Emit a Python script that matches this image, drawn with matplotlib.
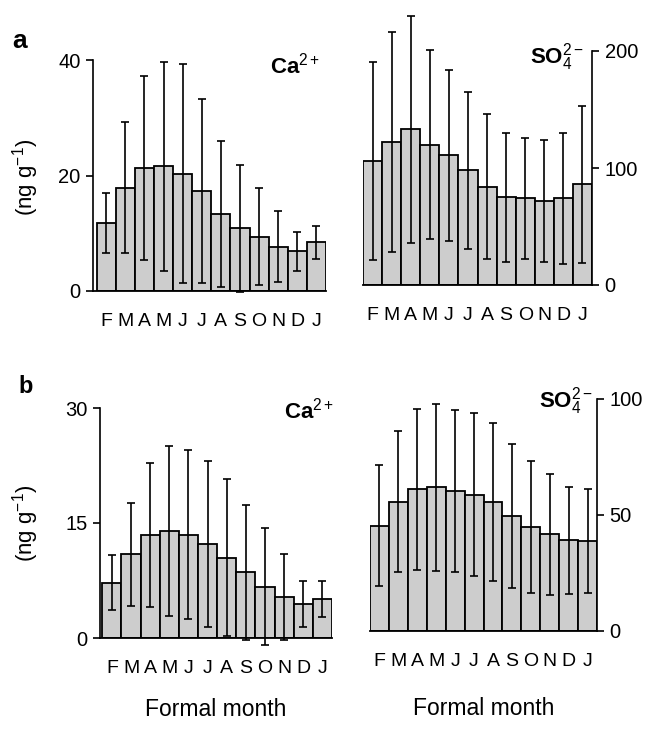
import numpy as np
import matplotlib
matplotlib.use("Agg")
from matplotlib import pyplot as plt

plt.rcParams['font.family'] = ['Liberation Sans', 'DejaVu Sans']
plt.rcParams['mathtext.fontset'] = 'custom'
plt.rcParams['mathtext.rm'] = 'Liberation Sans'
plt.rcParams['mathtext.bf'] = 'Liberation Sans:bold'
plt.rcParams['mathtext.it'] = 'Liberation Sans:italic'

months = ['F', 'M', 'A', 'M', 'J', 'J', 'A', 'S', 'O', 'N', 'D', 'J']

# panel a
ca_a_mean = [11.8, 17.9, 21.3, 21.6, 20.3, 17.3, 13.3, 10.9, 9.4, 7.7, 6.9, 8.4]
ca_a_sd = [5.2, 11.3, 15.9, 18.1, 19.0, 15.9, 12.6, 11.0, 8.4, 6.1, 3.4, 2.9]
so4_a_mean = [106, 122, 133, 120, 111, 98, 84, 75, 74, 72, 74, 86]
so4_a_sd = [85, 94, 97, 81, 73, 67, 62, 55, 52, 52, 56, 67]

# panel b
ca_b_mean = [7.2, 10.9, 13.4, 14.0, 13.5, 12.3, 10.5, 8.6, 6.7, 5.3, 4.4, 5.1]
ca_b_sd = [3.6, 6.7, 9.4, 11.1, 11.0, 10.8, 10.2, 8.8, 7.6, 5.6, 3.0, 2.3]
so4_b_mean = [45.4, 55.8, 61.0, 62.0, 60.3, 58.8, 55.5, 49.7, 44.9, 41.7, 39.1, 38.7]
so4_b_sd = [26.0, 30.5, 34.5, 36.0, 35.0, 35.0, 34.0, 31.0, 28.5, 26.0, 23.0, 22.5]

W, H = 653, 730
fig = plt.figure(figsize=(W / 100, H / 100), dpi=100)


def px_axes(x0, x1, y_top, y_bot):
    return fig.add_axes([x0 / W, 1 - y_bot / H, (x1 - x0) / W, (y_bot - y_top) / H])


def bar_panel(ax, mean, sd, ymax, yticks, side, xlim, ion, ion_xy, xlabel_pad=None):
    x = np.arange(len(mean))
    ax.bar(x, mean, width=1.0, color='#cdcdcd', edgecolor='black', linewidth=1.3, zorder=2)
    ax.errorbar(x, mean, yerr=sd, fmt='none', ecolor='black', elinewidth=1.2,
                capsize=3, capthick=1.2, clip_on=False, zorder=3)
    ax.set_ylim(0, ymax)
    ax.set_xlim(*xlim)
    ax.set_yticks(yticks)
    ax.set_xticks(x)
    ax.set_xticklabels(months, fontsize=14)
    ax.tick_params(axis='x', length=0, pad=16)
    for s in ['top', 'left', 'right']:
        ax.spines[s].set_visible(False)
    ax.spines['bottom'].set_linewidth(1.3)
    ax.spines[side].set_visible(True)
    ax.spines[side].set_linewidth(1.2)
    if side == 'right':
        ax.yaxis.tick_right()
    ax.tick_params(axis='y', direction='out', length=5, width=1.2, labelsize=14.5, pad=4)
    ax.text(ion_xy[0], ion_xy[1], ion, transform=ax.transAxes, ha='right', va='center',
            fontsize=16)
    if xlabel_pad is not None:
        ax.set_xlabel('Formal month', fontsize=16.5, labelpad=xlabel_pad)


ax1 = px_axes(93, 326, 60, 291)
bar_panel(ax1, ca_a_mean, ca_a_sd, 40, [0, 20, 40], 'left', (-0.69, 11.5),
          r'$\mathbf{Ca}^{2+}$', (0.975, 0.975))
ax1.set_ylabel(r'(ng g$^{-1}$)', fontsize=16)
ax1.yaxis.set_label_coords(-0.225, 0.49)

ax2 = px_axes(363, 592, 51, 285)
bar_panel(ax2, so4_a_mean, so4_a_sd, 200, [0, 100, 200], 'right', (-0.5, 11.5),
          r'$\mathbf{SO}_{4}^{2-}$', (0.965, 0.975))

ax3 = px_axes(100, 332, 408, 638)
bar_panel(ax3, ca_b_mean, ca_b_sd, 30, [0, 15, 30], 'left', (-0.62, 11.5),
          r'$\mathbf{Ca}^{2+}$', (1.01, 0.99), xlabel_pad=15)
ax3.set_ylabel(r'(ng g$^{-1}$)', fontsize=16)
ax3.yaxis.set_label_coords(-0.255, 0.5)

ax4 = px_axes(370, 597, 399, 631)
bar_panel(ax4, so4_b_mean, so4_b_sd, 100, [0, 50, 100], 'right', (-0.5, 11.5),
          r'$\mathbf{SO}_{4}^{2-}$', (0.98, 0.99), xlabel_pad=19)

fig.text(12 / W, 1 - 48 / H, 'a', fontsize=19, fontweight='bold', va='baseline')
fig.text(18 / W, 1 - 393 / H, 'b', fontsize=17, fontweight='bold', va='baseline')

fig.savefig('out.png', dpi=100)
